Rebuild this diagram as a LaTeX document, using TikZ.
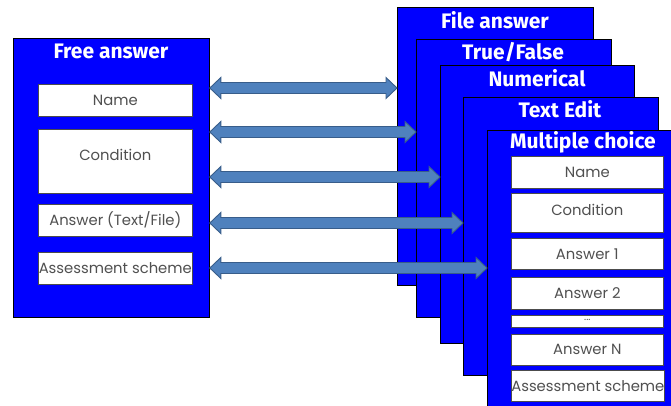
\documentclass[tikz,border=0pt]{standalone}
\usepackage{fontspec}
\usetikzlibrary{calc}
\newfontfamily\titlefont{Fira Sans}
\newfontfamily\boxfont{Poppins}
\definecolor{panelblue}{RGB}{0,0,255}
\definecolor{arrfill}{RGB}{79,129,189}
\definecolor{arrdraw}{RGB}{56,93,138}
\definecolor{boxtext}{RGB}{80,80,80}
\newcommand\mydblarrow[2]{%
  \path[fill=arrfill,draw=arrdraw,line width=0.9pt] let \p1=(#1), \p2=(#2) in
    (\x1,\y1) -- (\x1+11pt,\y1+10.5pt) -- (\x1+11pt,\y1+5.5pt) -- (\x2-11pt,\y1+5.5pt)
    -- (\x2-11pt,\y1+10.5pt) -- (\x2,\y1) -- (\x2-11pt,\y1-10.5pt) -- (\x2-11pt,\y1-5.5pt)
    -- (\x1+11pt,\y1-5.5pt) -- (\x1+11pt,\y1-10.5pt) -- cycle;}
\begin{document}
\begin{tikzpicture}[x=1pt,y=-1pt,
  panel/.style={draw=black,fill=panelblue,line width=0.8pt,anchor=north west,inner sep=0pt},
  field/.style={draw=black!70,fill=white,line width=0.6pt,anchor=north west,inner sep=0pt,
    minimum width=154pt,font=\boxfont\fontsize{14.8}{16}\selectfont,text=boxtext},
  ptitle/.style={text=white,font=\titlefont\bfseries\fontsize{21}{23}\selectfont,inner sep=0pt}]
\useasboundingbox (0,0) rectangle (671,406);
% left panel
\node[panel,minimum width=196pt,minimum height=279pt] (free) at (13,38) {};
\node[ptitle] (freet) at (111,51) {Free answer};
\node[field,minimum height=32pt] (fname) at (38,84) {Name};
\node[field,minimum height=64pt] (fcond) at (38,129) {\raisebox{12pt}{Condition}};
\node[field,minimum height=32pt] (fans) at (38,204) {Answer (Text/File)};
\node[field,minimum height=32pt] (fass) at (38,252) {Assessment scheme};
% right stack
\node[panel,minimum width=196pt,minimum height=278pt] (pfile) at (397,7) {};
\node[ptitle] (pfilet) at (495,20) {File answer};
\node[panel,minimum width=195pt,minimum height=278pt] (ptf) at (416,39) {};
\node[ptitle] (ptft) at (513,52) {True/False};
\node[panel,minimum width=194pt,minimum height=278pt] (pnum) at (440,65) {};
\node[ptitle] (pnumt) at (537,78) {Numerical};
\node[panel,minimum width=195pt,minimum height=278pt] (pte) at (463,97) {};
\node[ptitle] (ptet) at (560,109) {Text Edit};
\node[panel,minimum width=195pt,minimum height=290pt] (pmc) at (487,130) {};
\node[ptitle] (pmct) at (583,142) {Multiple choice};
\node[field,minimum width=152pt,minimum height=32pt] (mname) at (511,156) {Name};
\node[field,minimum width=152pt,minimum height=39pt] (mcond) at (511,193) {\raisebox{6pt}{Condition}};
\node[field,minimum width=152pt,minimum height=31pt] (ma1) at (511,238) {Answer 1};
\node[field,minimum width=152pt,minimum height=32pt] (ma2) at (511,277) {Answer 2};
\node[field,minimum width=152pt,minimum height=12pt,font=\boxfont\fontsize{10}{10}\selectfont] (mdots) at (511,315) {\raisebox{2pt}{...}};
\node[field,minimum width=152pt,minimum height=31pt] (man) at (511,334) {Answer N};
\node[field,minimum width=152pt,minimum height=31pt] (mass) at (511,370) {Assessment scheme};
% arrows
\path (free.east |- 0,88) coordinate (l1) (pfile.west |- 0,88) coordinate (r1);
\path (free.east |- 0,132) coordinate (l2) (ptf.west |- 0,132) coordinate (r2);
\path (free.east |- 0,177) coordinate (l3) (pnum.west |- 0,177) coordinate (r3);
\path (free.east |- 0,223) coordinate (l4) (pte.west |- 0,223) coordinate (r4);
\path (free.east |- 0,268) coordinate (l5) (pmc.west |- 0,268) coordinate (r5);
\mydblarrow{l1}{r1}
\mydblarrow{l2}{r2}
\mydblarrow{l3}{r3}
\mydblarrow{l4}{r4}
\mydblarrow{l5}{r5}
\end{tikzpicture}
\end{document}
